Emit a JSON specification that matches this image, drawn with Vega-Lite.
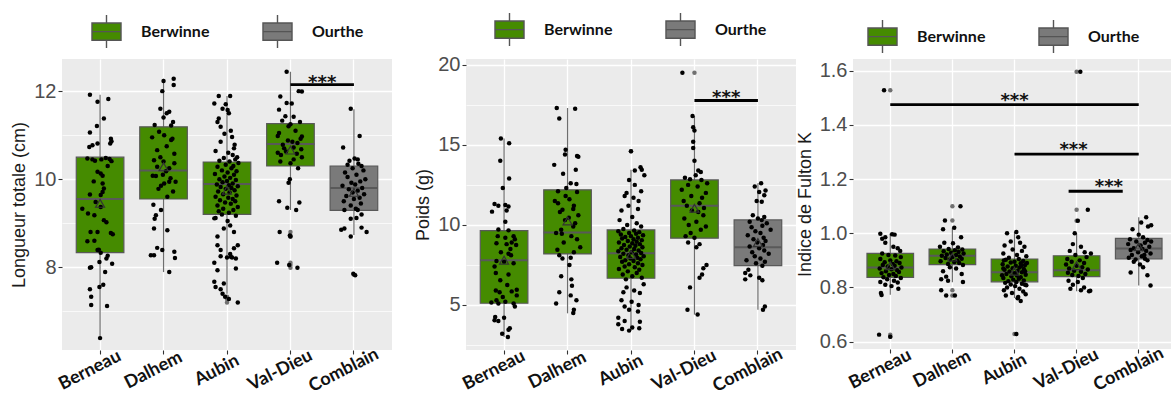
{
  "$schema": "https://vega.github.io/schema/vega-lite/v6.json",
  "background": "white",
  "padding": {"left": 10, "top": 12, "right": 0, "bottom": 0},
  "datasets": {
    "lenBox": [
      {"site": "Berneau", "river": "Berwinne", "lo": 6.39, "q1": 8.33, "med": 9.55, "q3": 10.5, "hi": 11.92, "mean": 9.45},
      {"site": "Dalhem", "river": "Berwinne", "lo": 7.89, "q1": 9.55, "med": 10.2, "q3": 11.19, "hi": 12.28, "mean": 10.28},
      {"site": "Aubin", "river": "Berwinne", "lo": 7.4, "q1": 9.2, "med": 9.89, "q3": 10.39, "hi": 11.89, "mean": 9.75},
      {"site": "Val-Dieu", "river": "Berwinne", "lo": 9.3, "q1": 10.3, "med": 10.8, "q3": 11.26, "hi": 12.44, "mean": 10.66},
      {"site": "Comblain", "river": "Ourthe", "lo": 8.73, "q1": 9.29, "med": 9.8, "q3": 10.3, "hi": 11.59, "mean": 9.7}
    ],
    "lenOut": [
      {"site": "Aubin", "v": 7.33}, {"site": "Aubin", "v": 7.28}, {"site": "Aubin", "v": 7.2},
      {"site": "Val-Dieu", "v": 8.8}, {"site": "Val-Dieu", "v": 8.72}, {"site": "Val-Dieu", "v": 8.7},
      {"site": "Val-Dieu", "v": 8.1}, {"site": "Val-Dieu", "v": 8.05}, {"site": "Val-Dieu", "v": 7.99},
      {"site": "Comblain", "v": 7.83}
    ],
    "lenSig": [{"from": "Val-Dieu", "to": "Comblain", "y": 12.15}],
    "lenTxt": [{"site": "Comblain", "shift": -0.5, "y": 12.15, "label": "***"}],
    "lenPts": [
      {"site":"Berneau","v":11.92,"j":-0.16},{"site":"Berneau","v":11.82,"j":0.13},{"site":"Berneau","v":11.76,"j":-0.04},{"site":"Berneau","v":11.38,"j":0.06},{"site":"Berneau","v":11.21,"j":-0.05},{"site":"Berneau","v":11.06,"j":-0.16},{"site":"Berneau","v":10.92,"j":0.17},{"site":"Berneau","v":10.86,"j":0.18},{"site":"Berneau","v":10.81,"j":0.16},{"site":"Berneau","v":10.77,"j":-0.12},{"site":"Berneau","v":10.73,"j":-0.17},{"site":"Berneau","v":10.81,"j":-0.04},{"site":"Berneau","v":10.47,"j":-0.2},{"site":"Berneau","v":10.45,"j":-0.12},{"site":"Berneau","v":10.42,"j":-0.08},{"site":"Berneau","v":10.45,"j":0.02},{"site":"Berneau","v":10.48,"j":0.09},{"site":"Berneau","v":10.46,"j":0.15},{"site":"Berneau","v":10.41,"j":0.18},{"site":"Berneau","v":10.17,"j":-0.04},{"site":"Berneau","v":10.13,"j":0.01},{"site":"Berneau","v":10.08,"j":0.04},{"site":"Berneau","v":9.9,"j":0.04},{"site":"Berneau","v":9.79,"j":0.06},{"site":"Berneau","v":9.71,"j":0.04},{"site":"Berneau","v":9.65,"j":-0.16},{"site":"Berneau","v":9.64,"j":0.01},{"site":"Berneau","v":9.48,"j":-0.07},{"site":"Berneau","v":9.37,"j":0.01},{"site":"Berneau","v":9.33,"j":-0.28},{"site":"Berneau","v":9.22,"j":-0.19},{"site":"Berneau","v":9.18,"j":-0.09},{"site":"Berneau","v":9.07,"j":0.06},{"site":"Berneau","v":9.02,"j":0.1},{"site":"Berneau","v":8.8,"j":-0.04},{"site":"Berneau","v":8.8,"j":-0.15},{"site":"Berneau","v":8.78,"j":0.17},{"site":"Berneau","v":8.59,"j":-0.2},{"site":"Berneau","v":8.6,"j":-0.09},{"site":"Berneau","v":8.39,"j":-0.04},{"site":"Berneau","v":8.4,"j":-0.02},{"site":"Berneau","v":8.33,"j":0.01},{"site":"Berneau","v":8.26,"j":0.12},{"site":"Berneau","v":8.2,"j":0.1},{"site":"Berneau","v":8.12,"j":-0.01},{"site":"Berneau","v":8.08,"j":0.19},{"site":"Berneau","v":7.99,"j":-0.16},{"site":"Berneau","v":8.0,"j":-0.14},{"site":"Berneau","v":7.89,"j":0.08},{"site":"Berneau","v":7.6,"j":0.05},{"site":"Berneau","v":7.55,"j":-0.01},{"site":"Berneau","v":7.5,"j":-0.16},{"site":"Berneau","v":7.33,"j":-0.14},{"site":"Berneau","v":7.14,"j":-0.14},{"site":"Berneau","v":7.12,"j":0.11},{"site":"Berneau","v":6.39,"j":0.0},{"site":"Berneau","v":8.75,"j":0.2},{"site":"Berneau","v":9.95,"j":-0.1},{"site":"Berneau","v":10.3,"j":0.12},
      {"site":"Dalhem","v":12.28,"j":0.16},{"site":"Dalhem","v":12.23,"j":0.0},{"site":"Dalhem","v":12.14,"j":0.16},{"site":"Dalhem","v":12.0,"j":-0.02},{"site":"Dalhem","v":11.6,"j":-0.05},{"site":"Dalhem","v":11.53,"j":0.09},{"site":"Dalhem","v":11.5,"j":0.05},{"site":"Dalhem","v":11.4,"j":0.0},{"site":"Dalhem","v":11.23,"j":-0.14},{"site":"Dalhem","v":11.22,"j":0.12},{"site":"Dalhem","v":11.08,"j":-0.07},{"site":"Dalhem","v":11.0,"j":0.01},{"site":"Dalhem","v":10.92,"j":0.14},{"site":"Dalhem","v":10.89,"j":0.12},{"site":"Dalhem","v":10.66,"j":-0.1},{"site":"Dalhem","v":10.58,"j":0.17},{"site":"Dalhem","v":10.5,"j":-0.05},{"site":"Dalhem","v":10.43,"j":-0.15},{"site":"Dalhem","v":10.36,"j":0.17},{"site":"Dalhem","v":10.28,"j":-0.1},{"site":"Dalhem","v":10.25,"j":0.09},{"site":"Dalhem","v":10.18,"j":0.04},{"site":"Dalhem","v":10.1,"j":-0.01},{"site":"Dalhem","v":10.08,"j":-0.17},{"site":"Dalhem","v":10.07,"j":-0.12},{"site":"Dalhem","v":9.94,"j":0.09},{"site":"Dalhem","v":9.9,"j":0.01},{"site":"Dalhem","v":9.94,"j":0.19},{"site":"Dalhem","v":9.85,"j":-0.04},{"site":"Dalhem","v":9.72,"j":0.15},{"site":"Dalhem","v":9.6,"j":0.06},{"site":"Dalhem","v":9.42,"j":-0.16},{"site":"Dalhem","v":9.3,"j":-0.04},{"site":"Dalhem","v":9.18,"j":-0.12},{"site":"Dalhem","v":9.1,"j":-0.14},{"site":"Dalhem","v":8.88,"j":-0.15},{"site":"Dalhem","v":8.84,"j":0.06},{"site":"Dalhem","v":8.44,"j":-0.1},{"site":"Dalhem","v":8.39,"j":-0.02},{"site":"Dalhem","v":8.27,"j":-0.15},{"site":"Dalhem","v":8.27,"j":-0.2},{"site":"Dalhem","v":8.35,"j":0.17},{"site":"Dalhem","v":8.21,"j":0.18},{"site":"Dalhem","v":7.89,"j":0.09},{"site":"Dalhem","v":10.75,"j":0.05},{"site":"Dalhem","v":10.95,"j":-0.18},{"site":"Dalhem","v":11.3,"j":0.15},{"site":"Dalhem","v":10.4,"j":0.0},{"site":"Dalhem","v":9.78,"j":-0.08},{"site":"Dalhem","v":10.02,"j":0.11},
      {"site":"Aubin","v":11.89,"j":-0.13},{"site":"Aubin","v":11.89,"j":0.05},{"site":"Aubin","v":11.72,"j":-0.2},{"site":"Aubin","v":11.7,"j":-0.02},{"site":"Aubin","v":11.6,"j":-0.07},{"site":"Aubin","v":11.57,"j":0.01},{"site":"Aubin","v":11.5,"j":0.03},{"site":"Aubin","v":11.38,"j":-0.13},{"site":"Aubin","v":11.3,"j":-0.15},{"site":"Aubin","v":11.19,"j":-0.1},{"site":"Aubin","v":11.1,"j":0.06},{"site":"Aubin","v":11.03,"j":-0.04},{"site":"Aubin","v":10.96,"j":0.08},{"site":"Aubin","v":10.85,"j":-0.1},{"site":"Aubin","v":10.78,"j":0.12},{"site":"Aubin","v":10.7,"j":0.11},{"site":"Aubin","v":10.64,"j":-0.18},{"site":"Aubin","v":10.6,"j":0.02},{"site":"Aubin","v":10.55,"j":0.09},{"site":"Aubin","v":10.5,"j":0.16},{"site":"Aubin","v":10.48,"j":-0.05},{"site":"Aubin","v":10.45,"j":0.13},{"site":"Aubin","v":10.42,"j":-0.12},{"site":"Aubin","v":10.4,"j":0.04},{"site":"Aubin","v":10.37,"j":0.18},{"site":"Aubin","v":10.33,"j":-0.02},{"site":"Aubin","v":10.3,"j":0.1},{"site":"Aubin","v":10.28,"j":-0.15},{"site":"Aubin","v":10.25,"j":0.07},{"site":"Aubin","v":10.2,"j":-0.08},{"site":"Aubin","v":10.18,"j":0.15},{"site":"Aubin","v":10.15,"j":0.01},{"site":"Aubin","v":10.12,"j":-0.19},{"site":"Aubin","v":10.1,"j":0.11},{"site":"Aubin","v":10.06,"j":-0.04},{"site":"Aubin","v":10.03,"j":0.05},{"site":"Aubin","v":10.0,"j":-0.12},{"site":"Aubin","v":9.98,"j":0.14},{"site":"Aubin","v":9.96,"j":0.0},{"site":"Aubin","v":9.93,"j":-0.07},{"site":"Aubin","v":9.9,"j":0.09},{"site":"Aubin","v":9.88,"j":-0.16},{"site":"Aubin","v":9.86,"j":0.03},{"site":"Aubin","v":9.84,"j":0.17},{"site":"Aubin","v":9.82,"j":-0.1},{"site":"Aubin","v":9.8,"j":0.07},{"site":"Aubin","v":9.78,"j":-0.02},{"site":"Aubin","v":9.75,"j":0.12},{"site":"Aubin","v":9.72,"j":-0.14},{"site":"Aubin","v":9.7,"j":0.04},{"site":"Aubin","v":9.66,"j":-0.06},{"site":"Aubin","v":9.63,"j":0.15},{"site":"Aubin","v":9.6,"j":-0.18},{"site":"Aubin","v":9.58,"j":0.02},{"site":"Aubin","v":9.55,"j":0.09},{"site":"Aubin","v":9.52,"j":-0.11},{"site":"Aubin","v":9.5,"j":0.13},{"site":"Aubin","v":9.47,"j":-0.03},{"site":"Aubin","v":9.44,"j":0.06},{"site":"Aubin","v":9.4,"j":-0.15},{"site":"Aubin","v":9.37,"j":0.17},{"site":"Aubin","v":9.33,"j":-0.06},{"site":"Aubin","v":9.3,"j":0.1},{"site":"Aubin","v":9.27,"j":-0.13},{"site":"Aubin","v":9.24,"j":0.03},{"site":"Aubin","v":9.2,"j":-0.08},{"site":"Aubin","v":9.17,"j":0.14},{"site":"Aubin","v":9.12,"j":-0.18},{"site":"Aubin","v":9.11,"j":-0.2},{"site":"Aubin","v":9.05,"j":0.01},{"site":"Aubin","v":8.95,"j":0.05},{"site":"Aubin","v":8.88,"j":-0.05},{"site":"Aubin","v":8.8,"j":0.11},{"site":"Aubin","v":8.7,"j":-0.15},{"site":"Aubin","v":8.5,"j":-0.15},{"site":"Aubin","v":8.5,"j":0.17},{"site":"Aubin","v":8.43,"j":0.11},{"site":"Aubin","v":8.39,"j":-0.1},{"site":"Aubin","v":8.3,"j":0.05},{"site":"Aubin","v":8.25,"j":-0.1},{"site":"Aubin","v":8.22,"j":0.0},{"site":"Aubin","v":8.22,"j":0.08},{"site":"Aubin","v":8.2,"j":0.14},{"site":"Aubin","v":8.24,"j":0.06},{"site":"Aubin","v":8.1,"j":-0.2},{"site":"Aubin","v":7.97,"j":0.14},{"site":"Aubin","v":7.93,"j":-0.15},{"site":"Aubin","v":7.67,"j":-0.2},{"site":"Aubin","v":7.63,"j":-0.05},{"site":"Aubin","v":7.55,"j":-0.18},{"site":"Aubin","v":7.5,"j":-0.1},{"site":"Aubin","v":7.4,"j":-0.07},{"site":"Aubin","v":7.33,"j":-0.03},{"site":"Aubin","v":7.28,"j":0.03},{"site":"Aubin","v":7.2,"j":0.17},
      {"site":"Val-Dieu","v":12.44,"j":-0.06},{"site":"Val-Dieu","v":12.0,"j":0.13},{"site":"Val-Dieu","v":11.99,"j":0.18},{"site":"Val-Dieu","v":11.88,"j":-0.16},{"site":"Val-Dieu","v":11.73,"j":-0.06},{"site":"Val-Dieu","v":11.72,"j":0.02},{"site":"Val-Dieu","v":11.58,"j":-0.18},{"site":"Val-Dieu","v":11.43,"j":-0.08},{"site":"Val-Dieu","v":11.42,"j":0.05},{"site":"Val-Dieu","v":11.33,"j":-0.13},{"site":"Val-Dieu","v":11.25,"j":0.0},{"site":"Val-Dieu","v":11.2,"j":-0.03},{"site":"Val-Dieu","v":11.3,"j":0.15},{"site":"Val-Dieu","v":11.05,"j":-0.18},{"site":"Val-Dieu","v":10.98,"j":-0.2},{"site":"Val-Dieu","v":10.97,"j":0.18},{"site":"Val-Dieu","v":10.92,"j":0.16},{"site":"Val-Dieu","v":10.88,"j":-0.04},{"site":"Val-Dieu","v":10.82,"j":0.11},{"site":"Val-Dieu","v":10.78,"j":-0.12},{"site":"Val-Dieu","v":10.72,"j":0.05},{"site":"Val-Dieu","v":10.68,"j":0.17},{"site":"Val-Dieu","v":10.63,"j":-0.07},{"site":"Val-Dieu","v":10.58,"j":0.1},{"site":"Val-Dieu","v":10.55,"j":-0.15},{"site":"Val-Dieu","v":10.5,"j":0.18},{"site":"Val-Dieu","v":10.45,"j":0.05},{"site":"Val-Dieu","v":10.4,"j":-0.16},{"site":"Val-Dieu","v":10.36,"j":0.0},{"site":"Val-Dieu","v":10.7,"j":-0.1},{"site":"Val-Dieu","v":10.85,"j":0.03},{"site":"Val-Dieu","v":11.1,"j":0.08},{"site":"Val-Dieu","v":10.0,"j":-0.01},{"site":"Val-Dieu","v":9.92,"j":-0.03},{"site":"Val-Dieu","v":9.5,"j":-0.18},{"site":"Val-Dieu","v":9.47,"j":0.14},{"site":"Val-Dieu","v":9.35,"j":-0.05},{"site":"Val-Dieu","v":9.3,"j":0.09},{"site":"Val-Dieu","v":8.8,"j":-0.17},{"site":"Val-Dieu","v":8.72,"j":-0.01},{"site":"Val-Dieu","v":8.7,"j":0.0},{"site":"Val-Dieu","v":8.1,"j":-0.21},{"site":"Val-Dieu","v":8.05,"j":-0.02},{"site":"Val-Dieu","v":7.99,"j":0.11},{"site":"Val-Dieu","v":10.25,"j":0.12},{"site":"Val-Dieu","v":10.6,"j":-0.2},
      {"site":"Comblain","v":11.6,"j":-0.05},{"site":"Comblain","v":10.98,"j":0.09},{"site":"Comblain","v":10.72,"j":-0.17},{"site":"Comblain","v":10.47,"j":0.01},{"site":"Comblain","v":10.45,"j":0.06},{"site":"Comblain","v":10.42,"j":-0.07},{"site":"Comblain","v":10.35,"j":0.07},{"site":"Comblain","v":10.33,"j":-0.1},{"site":"Comblain","v":10.3,"j":0.12},{"site":"Comblain","v":10.25,"j":-0.02},{"site":"Comblain","v":10.2,"j":0.15},{"site":"Comblain","v":10.15,"j":-0.14},{"site":"Comblain","v":10.1,"j":0.04},{"site":"Comblain","v":10.05,"j":-0.1},{"site":"Comblain","v":10.0,"j":0.18},{"site":"Comblain","v":9.95,"j":0.1},{"site":"Comblain","v":9.92,"j":-0.04},{"site":"Comblain","v":9.88,"j":0.02},{"site":"Comblain","v":9.85,"j":-0.18},{"site":"Comblain","v":9.8,"j":0.13},{"site":"Comblain","v":9.77,"j":-0.08},{"site":"Comblain","v":9.74,"j":0.06},{"site":"Comblain","v":9.7,"j":-0.02},{"site":"Comblain","v":9.66,"j":0.16},{"site":"Comblain","v":9.62,"j":-0.12},{"site":"Comblain","v":9.58,"j":0.09},{"site":"Comblain","v":9.55,"j":0.0},{"site":"Comblain","v":9.5,"j":-0.16},{"site":"Comblain","v":9.45,"j":0.11},{"site":"Comblain","v":9.4,"j":-0.05},{"site":"Comblain","v":9.33,"j":0.03},{"site":"Comblain","v":9.3,"j":-0.15},{"site":"Comblain","v":9.3,"j":0.06},{"site":"Comblain","v":9.2,"j":0.12},{"site":"Comblain","v":9.12,"j":0.04},{"site":"Comblain","v":9.1,"j":-0.05},{"site":"Comblain","v":8.9,"j":0.12},{"site":"Comblain","v":8.85,"j":-0.2},{"site":"Comblain","v":8.88,"j":-0.15},{"site":"Comblain","v":8.8,"j":0.2},{"site":"Comblain","v":8.7,"j":-0.05},{"site":"Comblain","v":7.85,"j":-0.01},{"site":"Comblain","v":7.82,"j":0.02}
    ],
    "wtBox": [
      {"site": "Berneau", "river": "Berwinne", "lo": 3.0, "q1": 5.11, "med": 7.79, "q3": 9.64, "hi": 15.4, "mean": 7.8},
      {"site": "Dalhem", "river": "Berwinne", "lo": 4.48, "q1": 8.19, "med": 9.52, "q3": 12.19, "hi": 17.3, "mean": 10.25},
      {"site": "Aubin", "river": "Berwinne", "lo": 3.4, "q1": 6.67, "med": 8.23, "q3": 9.69, "hi": 13.45, "mean": 8.15},
      {"site": "Val-Dieu", "river": "Berwinne", "lo": 4.4, "q1": 9.17, "med": 11.19, "q3": 12.81, "hi": 16.8, "mean": 11.04},
      {"site": "Comblain", "river": "Ourthe", "lo": 4.7, "q1": 7.46, "med": 8.6, "q3": 10.31, "hi": 12.6, "mean": 8.9}
    ],
    "wtOut": [{"site": "Aubin", "v": 14.6}, {"site": "Val-Dieu", "v": 19.5}],
    "wtSig": [{"from": "Val-Dieu", "to": "Comblain", "y": 17.77}],
    "wtTxt": [{"site": "Comblain", "shift": -0.5, "y": 17.77, "label": "***"}],
    "wtPts": [
      {"site":"Berneau","v":15.4,"j":-0.05},{"site":"Berneau","v":15.1,"j":0.08},{"site":"Berneau","v":14.0,"j":-0.06},{"site":"Berneau","v":12.9,"j":0.08},{"site":"Berneau","v":12.3,"j":-0.02},{"site":"Berneau","v":11.3,"j":-0.15},{"site":"Berneau","v":11.2,"j":-0.09},{"site":"Berneau","v":11.25,"j":0.02},{"site":"Berneau","v":11.15,"j":0.07},{"site":"Berneau","v":10.9,"j":0.04},{"site":"Berneau","v":10.83,"j":-0.19},{"site":"Berneau","v":10.2,"j":0.02},{"site":"Berneau","v":9.72,"j":-0.09},{"site":"Berneau","v":9.66,"j":0.07},{"site":"Berneau","v":9.3,"j":-0.1},{"site":"Berneau","v":9.2,"j":0.02},{"site":"Berneau","v":9.3,"j":0.15},{"site":"Berneau","v":9.1,"j":0.17},{"site":"Berneau","v":8.85,"j":-0.12},{"site":"Berneau","v":8.8,"j":0.04},{"site":"Berneau","v":8.9,"j":0.12},{"site":"Berneau","v":8.75,"j":0.19},{"site":"Berneau","v":8.3,"j":-0.05},{"site":"Berneau","v":8.2,"j":0.07},{"site":"Berneau","v":8.1,"j":0.11},{"site":"Berneau","v":7.75,"j":-0.12},{"site":"Berneau","v":7.7,"j":0.0},{"site":"Berneau","v":7.6,"j":0.15},{"site":"Berneau","v":7.0,"j":-0.13},{"site":"Berneau","v":6.9,"j":0.07},{"site":"Berneau","v":6.55,"j":-0.06},{"site":"Berneau","v":6.25,"j":0.05},{"site":"Berneau","v":5.9,"j":-0.13},{"site":"Berneau","v":5.8,"j":-0.07},{"site":"Berneau","v":5.85,"j":0.12},{"site":"Berneau","v":5.95,"j":0.2},{"site":"Berneau","v":5.5,"j":-0.02},{"site":"Berneau","v":5.6,"j":0.2},{"site":"Berneau","v":5.2,"j":0.02},{"site":"Berneau","v":5.1,"j":0.15},{"site":"Berneau","v":5.1,"j":-0.09},{"site":"Berneau","v":5.15,"j":-0.2},{"site":"Berneau","v":5.3,"j":-0.12},{"site":"Berneau","v":4.9,"j":0.17},{"site":"Berneau","v":4.25,"j":-0.14},{"site":"Berneau","v":4.2,"j":0.0},{"site":"Berneau","v":4.0,"j":-0.09},{"site":"Berneau","v":4.05,"j":-0.15},{"site":"Berneau","v":3.55,"j":0.09},{"site":"Berneau","v":3.45,"j":0.07},{"site":"Berneau","v":3.2,"j":-0.03},{"site":"Berneau","v":3.0,"j":0.06},{"site":"Berneau","v":7.4,"j":-0.15},{"site":"Berneau","v":8.5,"j":0.1},
      {"site":"Dalhem","v":17.3,"j":-0.17},{"site":"Dalhem","v":17.25,"j":0.12},{"site":"Dalhem","v":16.65,"j":-0.13},{"site":"Dalhem","v":14.7,"j":-0.03},{"site":"Dalhem","v":14.4,"j":-0.04},{"site":"Dalhem","v":14.3,"j":0.15},{"site":"Dalhem","v":14.25,"j":0.17},{"site":"Dalhem","v":13.75,"j":-0.21},{"site":"Dalhem","v":13.45,"j":0.13},{"site":"Dalhem","v":13.2,"j":-0.07},{"site":"Dalhem","v":12.6,"j":0.05},{"site":"Dalhem","v":12.55,"j":0.14},{"site":"Dalhem","v":12.3,"j":-0.02},{"site":"Dalhem","v":12.1,"j":-0.15},{"site":"Dalhem","v":12.05,"j":0.15},{"site":"Dalhem","v":11.8,"j":-0.03},{"site":"Dalhem","v":11.5,"j":-0.2},{"site":"Dalhem","v":11.35,"j":-0.15},{"site":"Dalhem","v":11.2,"j":0.1},{"site":"Dalhem","v":11.0,"j":0.09},{"site":"Dalhem","v":10.8,"j":-0.12},{"site":"Dalhem","v":10.6,"j":0.17},{"site":"Dalhem","v":10.45,"j":0.02},{"site":"Dalhem","v":10.3,"j":-0.04},{"site":"Dalhem","v":10.1,"j":0.12},{"site":"Dalhem","v":9.9,"j":0.09},{"site":"Dalhem","v":9.7,"j":-0.1},{"site":"Dalhem","v":9.5,"j":-0.18},{"site":"Dalhem","v":9.45,"j":-0.09},{"site":"Dalhem","v":9.3,"j":0.06},{"site":"Dalhem","v":9.1,"j":0.15},{"site":"Dalhem","v":8.9,"j":-0.06},{"site":"Dalhem","v":8.6,"j":0.2},{"site":"Dalhem","v":8.45,"j":-0.16},{"site":"Dalhem","v":8.3,"j":0.1},{"site":"Dalhem","v":8.1,"j":-0.13},{"site":"Dalhem","v":7.9,"j":-0.08},{"site":"Dalhem","v":7.95,"j":0.05},{"site":"Dalhem","v":7.5,"j":0.03},{"site":"Dalhem","v":6.8,"j":-0.1},{"site":"Dalhem","v":6.6,"j":0.06},{"site":"Dalhem","v":6.2,"j":0.07},{"site":"Dalhem","v":5.8,"j":-0.13},{"site":"Dalhem","v":5.6,"j":0.05},{"site":"Dalhem","v":5.3,"j":0.14},{"site":"Dalhem","v":5.1,"j":-0.18},{"site":"Dalhem","v":4.7,"j":0.1},{"site":"Dalhem","v":4.5,"j":0.09},{"site":"Dalhem","v":10.95,"j":-0.08},{"site":"Dalhem","v":11.6,"j":0.03},
      {"site":"Aubin","v":14.6,"j":0.0},{"site":"Aubin","v":13.6,"j":0.15},{"site":"Aubin","v":13.45,"j":0.17},{"site":"Aubin","v":13.4,"j":0.06},{"site":"Aubin","v":13.1,"j":0.21},{"site":"Aubin","v":12.8,"j":-0.03},{"site":"Aubin","v":12.5,"j":0.06},{"site":"Aubin","v":12.1,"j":0.16},{"site":"Aubin","v":12.0,"j":-0.07},{"site":"Aubin","v":11.8,"j":-0.1},{"site":"Aubin","v":11.7,"j":0.04},{"site":"Aubin","v":11.5,"j":0.12},{"site":"Aubin","v":11.2,"j":-0.04},{"site":"Aubin","v":11.0,"j":0.11},{"site":"Aubin","v":10.9,"j":-0.15},{"site":"Aubin","v":10.5,"j":0.02},{"site":"Aubin","v":10.3,"j":-0.18},{"site":"Aubin","v":10.1,"j":0.09},{"site":"Aubin","v":10.0,"j":-0.06},{"site":"Aubin","v":9.9,"j":0.16},{"site":"Aubin","v":9.75,"j":-0.12},{"site":"Aubin","v":9.65,"j":0.05},{"site":"Aubin","v":9.6,"j":-0.2},{"site":"Aubin","v":9.55,"j":0.13},{"site":"Aubin","v":9.5,"j":-0.03},{"site":"Aubin","v":9.45,"j":0.08},{"site":"Aubin","v":9.4,"j":-0.16},{"site":"Aubin","v":9.35,"j":0.19},{"site":"Aubin","v":9.3,"j":0.0},{"site":"Aubin","v":9.25,"j":-0.09},{"site":"Aubin","v":9.2,"j":0.11},{"site":"Aubin","v":9.15,"j":-0.14},{"site":"Aubin","v":9.1,"j":0.04},{"site":"Aubin","v":9.05,"j":0.17},{"site":"Aubin","v":9.0,"j":-0.05},{"site":"Aubin","v":8.95,"j":0.09},{"site":"Aubin","v":8.9,"j":-0.19},{"site":"Aubin","v":8.85,"j":0.02},{"site":"Aubin","v":8.8,"j":0.14},{"site":"Aubin","v":8.75,"j":-0.11},{"site":"Aubin","v":8.7,"j":0.07},{"site":"Aubin","v":8.65,"j":-0.02},{"site":"Aubin","v":8.6,"j":0.18},{"site":"Aubin","v":8.55,"j":-0.15},{"site":"Aubin","v":8.5,"j":0.05},{"site":"Aubin","v":8.45,"j":-0.07},{"site":"Aubin","v":8.4,"j":0.12},{"site":"Aubin","v":8.35,"j":-0.2},{"site":"Aubin","v":8.3,"j":0.01},{"site":"Aubin","v":8.25,"j":0.16},{"site":"Aubin","v":8.2,"j":-0.12},{"site":"Aubin","v":8.15,"j":0.08},{"site":"Aubin","v":8.1,"j":-0.04},{"site":"Aubin","v":8.05,"j":0.2},{"site":"Aubin","v":8.0,"j":-0.17},{"site":"Aubin","v":7.95,"j":0.1},{"site":"Aubin","v":7.9,"j":-0.01},{"site":"Aubin","v":7.85,"j":0.15},{"site":"Aubin","v":7.8,"j":-0.09},{"site":"Aubin","v":7.75,"j":0.04},{"site":"Aubin","v":7.7,"j":-0.14},{"site":"Aubin","v":7.6,"j":0.11},{"site":"Aubin","v":7.55,"j":-0.03},{"site":"Aubin","v":7.5,"j":0.18},{"site":"Aubin","v":7.4,"j":-0.1},{"site":"Aubin","v":7.35,"j":0.06},{"site":"Aubin","v":7.25,"j":-0.19},{"site":"Aubin","v":7.2,"j":0.13},{"site":"Aubin","v":7.1,"j":-0.05},{"site":"Aubin","v":7.0,"j":0.09},{"site":"Aubin","v":6.9,"j":-0.13},{"site":"Aubin","v":6.8,"j":0.02},{"site":"Aubin","v":6.7,"j":0.17},{"site":"Aubin","v":6.6,"j":-0.08},{"site":"Aubin","v":6.3,"j":0.2},{"site":"Aubin","v":6.1,"j":-0.07},{"site":"Aubin","v":5.9,"j":0.05},{"site":"Aubin","v":5.8,"j":-0.12},{"site":"Aubin","v":5.75,"j":0.14},{"site":"Aubin","v":5.3,"j":-0.15},{"site":"Aubin","v":5.2,"j":0.01},{"site":"Aubin","v":5.0,"j":0.12},{"site":"Aubin","v":4.9,"j":-0.1},{"site":"Aubin","v":4.7,"j":-0.03},{"site":"Aubin","v":4.6,"j":0.11},{"site":"Aubin","v":4.2,"j":-0.2},{"site":"Aubin","v":4.0,"j":-0.1},{"site":"Aubin","v":3.8,"j":-0.2},{"site":"Aubin","v":3.6,"j":0.02},{"site":"Aubin","v":3.5,"j":-0.14},{"site":"Aubin","v":3.4,"j":-0.03},{"site":"Aubin","v":3.55,"j":0.13},{"site":"Aubin","v":3.95,"j":0.14},
      {"site":"Val-Dieu","v":19.5,"j":-0.19},{"site":"Val-Dieu","v":16.8,"j":-0.03},{"site":"Val-Dieu","v":16.1,"j":-0.02},{"site":"Val-Dieu","v":15.9,"j":0.0},{"site":"Val-Dieu","v":15.2,"j":-0.02},{"site":"Val-Dieu","v":14.8,"j":-0.02},{"site":"Val-Dieu","v":14.0,"j":0.0},{"site":"Val-Dieu","v":13.4,"j":0.06},{"site":"Val-Dieu","v":13.3,"j":0.1},{"site":"Val-Dieu","v":13.1,"j":0.02},{"site":"Val-Dieu","v":12.95,"j":-0.15},{"site":"Val-Dieu","v":12.85,"j":-0.07},{"site":"Val-Dieu","v":12.8,"j":0.11},{"site":"Val-Dieu","v":12.6,"j":0.2},{"site":"Val-Dieu","v":12.5,"j":-0.1},{"site":"Val-Dieu","v":12.4,"j":0.05},{"site":"Val-Dieu","v":12.2,"j":-0.2},{"site":"Val-Dieu","v":12.0,"j":0.18},{"site":"Val-Dieu","v":11.8,"j":-0.05},{"site":"Val-Dieu","v":11.7,"j":0.12},{"site":"Val-Dieu","v":11.5,"j":-0.17},{"site":"Val-Dieu","v":11.35,"j":0.08},{"site":"Val-Dieu","v":11.2,"j":-0.12},{"site":"Val-Dieu","v":11.05,"j":0.15},{"site":"Val-Dieu","v":10.9,"j":-0.04},{"site":"Val-Dieu","v":10.8,"j":0.06},{"site":"Val-Dieu","v":10.6,"j":0.14},{"site":"Val-Dieu","v":10.4,"j":-0.16},{"site":"Val-Dieu","v":10.2,"j":0.03},{"site":"Val-Dieu","v":10.0,"j":-0.09},{"site":"Val-Dieu","v":9.9,"j":0.18},{"site":"Val-Dieu","v":9.7,"j":0.1},{"site":"Val-Dieu","v":9.5,"j":-0.06},{"site":"Val-Dieu","v":9.3,"j":-0.14},{"site":"Val-Dieu","v":9.2,"j":0.0},{"site":"Val-Dieu","v":8.9,"j":-0.1},{"site":"Val-Dieu","v":8.8,"j":0.08},{"site":"Val-Dieu","v":8.6,"j":0.03},{"site":"Val-Dieu","v":7.5,"j":0.19},{"site":"Val-Dieu","v":7.3,"j":0.14},{"site":"Val-Dieu","v":6.9,"j":0.12},{"site":"Val-Dieu","v":6.7,"j":0.08},{"site":"Val-Dieu","v":6.1,"j":-0.07},{"site":"Val-Dieu","v":4.7,"j":-0.11},{"site":"Val-Dieu","v":4.4,"j":0.05},
      {"site":"Comblain","v":12.6,"j":0.05},{"site":"Comblain","v":12.4,"j":-0.05},{"site":"Comblain","v":12.15,"j":0.12},{"site":"Comblain","v":12.05,"j":0.02},{"site":"Comblain","v":11.85,"j":0.1},{"site":"Comblain","v":11.5,"j":-0.02},{"site":"Comblain","v":11.45,"j":0.06},{"site":"Comblain","v":10.6,"j":-0.08},{"site":"Comblain","v":10.5,"j":0.1},{"site":"Comblain","v":10.4,"j":0.0},{"site":"Comblain","v":10.3,"j":0.06},{"site":"Comblain","v":10.2,"j":-0.13},{"site":"Comblain","v":10.1,"j":0.14},{"site":"Comblain","v":9.95,"j":0.07},{"site":"Comblain","v":9.85,"j":-0.1},{"site":"Comblain","v":9.7,"j":0.2},{"site":"Comblain","v":9.6,"j":-0.04},{"site":"Comblain","v":9.5,"j":0.04},{"site":"Comblain","v":9.35,"j":-0.16},{"site":"Comblain","v":9.2,"j":0.09},{"site":"Comblain","v":9.1,"j":-0.07},{"site":"Comblain","v":9.0,"j":0.12},{"site":"Comblain","v":8.9,"j":-0.01},{"site":"Comblain","v":8.75,"j":0.08},{"site":"Comblain","v":8.65,"j":-0.13},{"site":"Comblain","v":8.55,"j":0.02},{"site":"Comblain","v":8.4,"j":0.1},{"site":"Comblain","v":8.3,"j":-0.09},{"site":"Comblain","v":8.2,"j":0.17},{"site":"Comblain","v":8.05,"j":-0.05},{"site":"Comblain","v":7.9,"j":0.04},{"site":"Comblain","v":7.8,"j":-0.18},{"site":"Comblain","v":7.7,"j":0.11},{"site":"Comblain","v":7.6,"j":-0.03},{"site":"Comblain","v":7.45,"j":0.07},{"site":"Comblain","v":7.2,"j":-0.15},{"site":"Comblain","v":7.0,"j":-0.2},{"site":"Comblain","v":6.85,"j":-0.12},{"site":"Comblain","v":6.7,"j":0.02},{"site":"Comblain","v":6.6,"j":-0.2},{"site":"Comblain","v":6.55,"j":0.07},{"site":"Comblain","v":4.9,"j":0.11},{"site":"Comblain","v":4.7,"j":0.08}
    ],
    "kBox": [
      {"site": "Berneau", "river": "Berwinne", "lo": 0.773, "q1": 0.837, "med": 0.874, "q3": 0.926, "hi": 1.0, "mean": 0.88},
      {"site": "Dalhem", "river": "Berwinne", "lo": 0.819, "q1": 0.884, "med": 0.917, "q3": 0.942, "hi": 1.02, "mean": 0.912},
      {"site": "Aubin", "river": "Berwinne", "lo": 0.761, "q1": 0.821, "med": 0.856, "q3": 0.905, "hi": 1.005, "mean": 0.86},
      {"site": "Val-Dieu", "river": "Berwinne", "lo": 0.786, "q1": 0.84, "med": 0.864, "q3": 0.917, "hi": 1.0, "mean": 0.88},
      {"site": "Comblain", "river": "Ourthe", "lo": 0.807, "q1": 0.905, "med": 0.944, "q3": 0.981, "hi": 1.059, "mean": 0.95}
    ],
    "kOut": [
      {"site": "Berneau", "v": 1.528}, {"site": "Berneau", "v": 0.626}, {"site": "Berneau", "v": 0.618},
      {"site": "Dalhem", "v": 1.1}, {"site": "Dalhem", "v": 1.047}, {"site": "Dalhem", "v": 0.79}, {"site": "Dalhem", "v": 0.77},
      {"site": "Aubin", "v": 0.628},
      {"site": "Val-Dieu", "v": 1.596}, {"site": "Val-Dieu", "v": 1.087}, {"site": "Val-Dieu", "v": 1.046}
    ],
    "kSig": [
      {"from": "Berneau", "to": "Comblain", "y": 1.475},
      {"from": "Aubin", "to": "Comblain", "y": 1.292}
    ],
    "kSigShort": [{"from": "Val-Dieu", "to": "Comblain", "y": 1.155}],
    "kTxt": [
      {"site": "Comblain", "shift": -2.0, "y": 1.475, "label": "***"},
      {"site": "Comblain", "shift": -1.05, "y": 1.292, "label": "***"},
      {"site": "Comblain", "shift": -0.48, "y": 1.155, "label": "***"}
    ],
    "kPts": [
      {"site":"Berneau","v":1.528,"j":-0.1},{"site":"Berneau","v":0.998,"j":-0.16},{"site":"Berneau","v":0.996,"j":0.03},{"site":"Berneau","v":0.995,"j":0.07},{"site":"Berneau","v":0.985,"j":-0.08},{"site":"Berneau","v":0.98,"j":-0.13},{"site":"Berneau","v":0.965,"j":-0.08},{"site":"Berneau","v":0.95,"j":0.05},{"site":"Berneau","v":0.945,"j":0.12},{"site":"Berneau","v":0.935,"j":0.16},{"site":"Berneau","v":0.925,"j":-0.13},{"site":"Berneau","v":0.92,"j":-0.03},{"site":"Berneau","v":0.918,"j":0.08},{"site":"Berneau","v":0.912,"j":0.17},{"site":"Berneau","v":0.905,"j":-0.16},{"site":"Berneau","v":0.9,"j":0.0},{"site":"Berneau","v":0.897,"j":0.1},{"site":"Berneau","v":0.893,"j":-0.09},{"site":"Berneau","v":0.89,"j":0.15},{"site":"Berneau","v":0.887,"j":0.04},{"site":"Berneau","v":0.883,"j":-0.12},{"site":"Berneau","v":0.88,"j":0.07},{"site":"Berneau","v":0.877,"j":-0.04},{"site":"Berneau","v":0.874,"j":0.18},{"site":"Berneau","v":0.87,"j":-0.17},{"site":"Berneau","v":0.867,"j":0.02},{"site":"Berneau","v":0.864,"j":0.11},{"site":"Berneau","v":0.86,"j":-0.07},{"site":"Berneau","v":0.857,"j":0.14},{"site":"Berneau","v":0.853,"j":-0.14},{"site":"Berneau","v":0.85,"j":0.05},{"site":"Berneau","v":0.846,"j":-0.02},{"site":"Berneau","v":0.842,"j":0.09},{"site":"Berneau","v":0.838,"j":-0.11},{"site":"Berneau","v":0.835,"j":0.17},{"site":"Berneau","v":0.83,"j":-0.05},{"site":"Berneau","v":0.825,"j":0.06},{"site":"Berneau","v":0.82,"j":-0.16},{"site":"Berneau","v":0.818,"j":0.12},{"site":"Berneau","v":0.81,"j":-0.08},{"site":"Berneau","v":0.805,"j":0.02},{"site":"Berneau","v":0.795,"j":0.13},{"site":"Berneau","v":0.78,"j":-0.15},{"site":"Berneau","v":0.772,"j":-0.14},{"site":"Berneau","v":0.626,"j":-0.18},{"site":"Berneau","v":0.618,"j":0.0},
      {"site":"Dalhem","v":1.1,"j":0.13},{"site":"Dalhem","v":1.047,"j":-0.12},{"site":"Dalhem","v":1.02,"j":0.03},{"site":"Dalhem","v":1.015,"j":-0.15},{"site":"Dalhem","v":0.985,"j":0.14},{"site":"Dalhem","v":0.965,"j":-0.13},{"site":"Dalhem","v":0.963,"j":0.01},{"site":"Dalhem","v":0.95,"j":-0.2},{"site":"Dalhem","v":0.948,"j":0.09},{"site":"Dalhem","v":0.942,"j":-0.06},{"site":"Dalhem","v":0.94,"j":0.16},{"site":"Dalhem","v":0.937,"j":0.04},{"site":"Dalhem","v":0.934,"j":-0.14},{"site":"Dalhem","v":0.931,"j":0.1},{"site":"Dalhem","v":0.928,"j":-0.02},{"site":"Dalhem","v":0.925,"j":0.18},{"site":"Dalhem","v":0.922,"j":-0.09},{"site":"Dalhem","v":0.92,"j":0.06},{"site":"Dalhem","v":0.917,"j":-0.17},{"site":"Dalhem","v":0.914,"j":0.12},{"site":"Dalhem","v":0.912,"j":0.0},{"site":"Dalhem","v":0.909,"j":-0.11},{"site":"Dalhem","v":0.906,"j":0.15},{"site":"Dalhem","v":0.903,"j":-0.04},{"site":"Dalhem","v":0.9,"j":0.08},{"site":"Dalhem","v":0.897,"j":-0.19},{"site":"Dalhem","v":0.894,"j":0.03},{"site":"Dalhem","v":0.89,"j":0.11},{"site":"Dalhem","v":0.887,"j":-0.07},{"site":"Dalhem","v":0.883,"j":0.17},{"site":"Dalhem","v":0.875,"j":-0.04},{"site":"Dalhem","v":0.87,"j":0.06},{"site":"Dalhem","v":0.86,"j":-0.15},{"site":"Dalhem","v":0.85,"j":0.15},{"site":"Dalhem","v":0.84,"j":-0.1},{"site":"Dalhem","v":0.83,"j":-0.18},{"site":"Dalhem","v":0.825,"j":-0.07},{"site":"Dalhem","v":0.82,"j":0.17},{"site":"Dalhem","v":0.79,"j":-0.18},{"site":"Dalhem","v":0.77,"j":0.04},{"site":"Dalhem","v":0.77,"j":-0.1},
      {"site":"Aubin","v":1.005,"j":0.03},{"site":"Aubin","v":1.0,"j":-0.12},{"site":"Aubin","v":0.985,"j":0.06},{"site":"Aubin","v":0.97,"j":-0.06},{"site":"Aubin","v":0.965,"j":0.09},{"site":"Aubin","v":0.955,"j":-0.16},{"site":"Aubin","v":0.95,"j":0.16},{"site":"Aubin","v":0.94,"j":-0.03},{"site":"Aubin","v":0.935,"j":0.12},{"site":"Aubin","v":0.925,"j":-0.18},{"site":"Aubin","v":0.92,"j":0.04},{"site":"Aubin","v":0.915,"j":0.19},{"site":"Aubin","v":0.91,"j":-0.09},{"site":"Aubin","v":0.905,"j":0.07},{"site":"Aubin","v":0.902,"j":-0.14},{"site":"Aubin","v":0.898,"j":0.14},{"site":"Aubin","v":0.895,"j":0.0},{"site":"Aubin","v":0.892,"j":-0.06},{"site":"Aubin","v":0.889,"j":0.1},{"site":"Aubin","v":0.886,"j":-0.19},{"site":"Aubin","v":0.883,"j":0.17},{"site":"Aubin","v":0.88,"j":0.02},{"site":"Aubin","v":0.877,"j":-0.11},{"site":"Aubin","v":0.874,"j":0.08},{"site":"Aubin","v":0.871,"j":-0.03},{"site":"Aubin","v":0.868,"j":0.15},{"site":"Aubin","v":0.865,"j":-0.16},{"site":"Aubin","v":0.862,"j":0.05},{"site":"Aubin","v":0.859,"j":-0.08},{"site":"Aubin","v":0.856,"j":0.12},{"site":"Aubin","v":0.853,"j":0.0},{"site":"Aubin","v":0.85,"j":-0.13},{"site":"Aubin","v":0.847,"j":0.18},{"site":"Aubin","v":0.844,"j":0.04},{"site":"Aubin","v":0.841,"j":-0.05},{"site":"Aubin","v":0.838,"j":0.1},{"site":"Aubin","v":0.835,"j":-0.18},{"site":"Aubin","v":0.832,"j":0.07},{"site":"Aubin","v":0.829,"j":-0.02},{"site":"Aubin","v":0.826,"j":0.15},{"site":"Aubin","v":0.823,"j":-0.1},{"site":"Aubin","v":0.82,"j":0.03},{"site":"Aubin","v":0.817,"j":-0.15},{"site":"Aubin","v":0.814,"j":0.12},{"site":"Aubin","v":0.811,"j":-0.06},{"site":"Aubin","v":0.808,"j":0.19},{"site":"Aubin","v":0.805,"j":0.01},{"site":"Aubin","v":0.8,"j":-0.12},{"site":"Aubin","v":0.795,"j":0.08},{"site":"Aubin","v":0.79,"j":-0.17},{"site":"Aubin","v":0.785,"j":0.14},{"site":"Aubin","v":0.78,"j":-0.04},{"site":"Aubin","v":0.775,"j":0.18},{"site":"Aubin","v":0.77,"j":-0.14},{"site":"Aubin","v":0.765,"j":0.06},{"site":"Aubin","v":0.76,"j":0.05},{"site":"Aubin","v":0.75,"j":0.1},{"site":"Aubin","v":0.628,"j":0.03},{"site":"Aubin","v":0.86,"j":0.17},{"site":"Aubin","v":0.87,"j":-0.18},{"site":"Aubin","v":0.89,"j":0.2},{"site":"Aubin","v":0.845,"j":-0.2},{"site":"Aubin","v":0.9,"j":-0.17},{"site":"Aubin","v":0.81,"j":0.17},{"site":"Aubin","v":0.88,"j":0.11},
      {"site":"Val-Dieu","v":1.596,"j":0.06},{"site":"Val-Dieu","v":1.087,"j":0.18},{"site":"Val-Dieu","v":1.046,"j":0.02},{"site":"Val-Dieu","v":1.0,"j":-0.03},{"site":"Val-Dieu","v":0.96,"j":-0.06},{"site":"Val-Dieu","v":0.95,"j":0.07},{"site":"Val-Dieu","v":0.935,"j":-0.11},{"site":"Val-Dieu","v":0.93,"j":0.13},{"site":"Val-Dieu","v":0.925,"j":0.23},{"site":"Val-Dieu","v":0.92,"j":-0.02},{"site":"Val-Dieu","v":0.912,"j":0.16},{"site":"Val-Dieu","v":0.905,"j":-0.15},{"site":"Val-Dieu","v":0.9,"j":0.05},{"site":"Val-Dieu","v":0.895,"j":-0.08},{"site":"Val-Dieu","v":0.89,"j":0.12},{"site":"Val-Dieu","v":0.885,"j":-0.17},{"site":"Val-Dieu","v":0.88,"j":0.0},{"site":"Val-Dieu","v":0.875,"j":0.09},{"site":"Val-Dieu","v":0.87,"j":-0.12},{"site":"Val-Dieu","v":0.866,"j":0.18},{"site":"Val-Dieu","v":0.862,"j":-0.04},{"site":"Val-Dieu","v":0.858,"j":0.07},{"site":"Val-Dieu","v":0.854,"j":-0.14},{"site":"Val-Dieu","v":0.85,"j":0.14},{"site":"Val-Dieu","v":0.846,"j":-0.07},{"site":"Val-Dieu","v":0.842,"j":0.03},{"site":"Val-Dieu","v":0.835,"j":0.1},{"site":"Val-Dieu","v":0.825,"j":-0.13},{"site":"Val-Dieu","v":0.82,"j":0.02},{"site":"Val-Dieu","v":0.81,"j":-0.06},{"site":"Val-Dieu","v":0.8,"j":0.12},{"site":"Val-Dieu","v":0.795,"j":-0.1},{"site":"Val-Dieu","v":0.79,"j":0.07},{"site":"Val-Dieu","v":0.788,"j":0.22},{"site":"Val-Dieu","v":0.786,"j":0.2},
      {"site":"Comblain","v":1.059,"j":0.12},{"site":"Comblain","v":1.04,"j":0.04},{"site":"Comblain","v":1.03,"j":0.2},{"site":"Comblain","v":1.025,"j":0.15},{"site":"Comblain","v":1.015,"j":-0.1},{"site":"Comblain","v":0.995,"j":0.0},{"site":"Comblain","v":0.985,"j":0.07},{"site":"Comblain","v":0.978,"j":-0.14},{"site":"Comblain","v":0.975,"j":0.14},{"site":"Comblain","v":0.97,"j":-0.04},{"site":"Comblain","v":0.965,"j":0.1},{"site":"Comblain","v":0.96,"j":-0.17},{"site":"Comblain","v":0.955,"j":0.03},{"site":"Comblain","v":0.95,"j":0.17},{"site":"Comblain","v":0.945,"j":-0.08},{"site":"Comblain","v":0.942,"j":0.06},{"site":"Comblain","v":0.938,"j":-0.13},{"site":"Comblain","v":0.935,"j":0.12},{"site":"Comblain","v":0.93,"j":-0.01},{"site":"Comblain","v":0.925,"j":0.19},{"site":"Comblain","v":0.92,"j":-0.11},{"site":"Comblain","v":0.915,"j":0.05},{"site":"Comblain","v":0.91,"j":-0.16},{"site":"Comblain","v":0.906,"j":0.1},{"site":"Comblain","v":0.903,"j":-0.05},{"site":"Comblain","v":0.9,"j":0.14},{"site":"Comblain","v":0.895,"j":-0.08},{"site":"Comblain","v":0.885,"j":0.02},{"site":"Comblain","v":0.875,"j":0.07},{"site":"Comblain","v":0.855,"j":-0.13},{"site":"Comblain","v":0.845,"j":0.14},{"site":"Comblain","v":0.807,"j":0.19},{"site":"Comblain","v":0.97,"j":0.2},{"site":"Comblain","v":0.92,"j":0.09}
    ]
  },
  "hconcat": [
    {
      "hconcat": [
        {
          "width": 330,
          "height": 291,
          "layer": [
            {
              "layer": [
                {"data": {"name": "lenBox"}, "mark": {"type": "rule", "color": "#6e6e6e", "strokeWidth": 1.2},
                 "encoding": {
                   "x": {"field": "site", "type": "nominal", "title": null,
                     "scale": {"domain": ["Berneau", "Dalhem", "Aubin", "Val-Dieu", "Comblain"], "paddingInner": 0.25, "paddingOuter": 0.225},
                     "axis": {"labelAngle": -27, "labelAlign": "center", "labelBaseline": "middle", "labelOffset": -10, "labelPadding": 16, "labelFont": "Lato", "labelFontWeight": "bold", "labelFontSize": 18, "labelColor": "#111111", "labelOverlap": false, "labelBound": false, "grid": true, "gridWidth": 1.3, "tickSize": 4}},
                   "y": {"field": "lo", "type": "quantitative", "scale": {"domain": [6.12, 12.73], "nice": false, "zero": false},
                     "axis": {"title": "Longueur totale (cm)", "titleFont": "Liberation Sans", "titleFontSize": 18, "titleFontWeight": "normal", "titleColor": "#1a1a1a", "titlePadding": 5,
                       "labelFont": "Liberation Sans", "labelFontSize": 20, "labelColor": "#4d4d4d", "labelPadding": 2, "tickSize": 4,
                       "values": [7, 8, 9, 10, 11, 12], "format": ".0f", "labelExpr": "datum.value % 2 === 0 ? datum.label : ''",
                       "grid": true, "gridWidth": {"condition": {"test": "datum.value % 2 === 0", "value": 1.4}, "value": 0.7},
                       "tickOpacity": {"condition": {"test": "datum.value % 2 === 0", "value": 1}, "value": 0}}},
                   "y2": {"field": "hi"}}},
                {"data": {"name": "lenBox"}, "mark": {"type": "bar", "stroke": "#595959", "strokeWidth": 1.2},
                 "encoding": {
                   "x": {"field": "site", "type": "nominal", "title": null},
                   "y": {"field": "q1", "type": "quantitative"}, "y2": {"field": "q3"},
                   "color": {"field": "river", "type": "nominal", "scale": {"domain": ["Berwinne", "Ourthe"], "range": ["#458B00", "#7A7A7A"]},
                     "legend": {"orient": "none", "legendX": 27, "legendY": -45, "direction": "horizontal", "title": null,
                       "symbolType": "M-0.88,-0.52H0.88V0.52H-0.88Z M0,-1V-0.52 M0,0.52V1 M-0.88,0H0.88",
                       "encode": {"symbols": {"update": {"stroke": {"value": "#555555"}, "strokeWidth": {"value": 1.4}, "opacity": {"value": 1}}}}}}}},
                {"data": {"name": "lenBox"}, "mark": {"type": "bar", "stroke": "#595959", "strokeWidth": 2},
                 "encoding": {"x": {"field": "site", "type": "nominal", "title": null}, "y": {"field": "med", "type": "quantitative"}, "y2": {"field": "med"}}},
                {"data": {"name": "lenOut"}, "mark": {"type": "circle", "color": "#707070", "size": 20, "opacity": 1},
                 "encoding": {"x": {"field": "site", "type": "nominal", "title": null}, "y": {"field": "v", "type": "quantitative"}}},
                {"data": {"name": "lenSig"}, "mark": {"type": "rule", "color": "black", "strokeWidth": 2.8},
                 "encoding": {"x": {"field": "from", "type": "nominal", "title": null}, "x2": {"field": "to"}, "y": {"field": "y", "type": "quantitative"}}}
              ]
            },
            {
              "layer": [
                {"data": {"name": "lenPts"}, "mark": {"type": "circle", "color": "black", "size": 20, "opacity": 1},
                 "encoding": {"x": {"field": "site", "type": "nominal", "title": null}, "y": {"field": "v", "type": "quantitative"},
                   "xOffset": {"field": "j", "type": "quantitative", "scale": {"domain": [-0.375, 0.375]}}}},
                {"data": {"name": "lenTxt"}, "mark": {"type": "text", "font": "DejaVu Sans", "fontWeight": "bold", "fontSize": 18, "color": "#111111", "baseline": "alphabetic", "dy": 3},
                 "encoding": {"x": {"field": "site", "type": "nominal", "title": null}, "y": {"field": "y", "type": "quantitative"}, "text": {"field": "label"},
                   "xOffset": {"field": "shift", "type": "quantitative", "scale": {"domain": [-0.375, 0.375]}}}}
              ]
            },
            {"data": {"name": "lenBox"}, "mark": {"type": "point", "shape": "triangle-up", "filled": false, "color": "#333333", "size": 80, "strokeWidth": 1.2, "opacity": 1},
             "encoding": {"x": {"field": "site", "type": "nominal", "title": null}, "y": {"field": "mean", "type": "quantitative"}}}
          ],
          "resolve": {"scale": {"xOffset": "independent"}}
        },
        {
          "width": 330,
          "height": 291,
          "layer": [
            {
              "layer": [
                {"data": {"name": "wtBox"}, "mark": {"type": "rule", "color": "#6e6e6e", "strokeWidth": 1.2},
                 "encoding": {
                   "x": {"field": "site", "type": "nominal", "title": null,
                     "scale": {"domain": ["Berneau", "Dalhem", "Aubin", "Val-Dieu", "Comblain"], "paddingInner": 0.25, "paddingOuter": 0.225},
                     "axis": {"labelAngle": -27, "labelAlign": "center", "labelBaseline": "middle", "labelOffset": -10, "labelPadding": 16, "labelFont": "Lato", "labelFontWeight": "bold", "labelFontSize": 18, "labelColor": "#111111", "labelOverlap": false, "labelBound": false, "grid": true, "gridWidth": 1.3, "tickSize": 4}},
                   "y": {"field": "lo", "type": "quantitative", "scale": {"domain": [2.19, 20.36], "nice": false, "zero": false},
                     "axis": {"title": "Poids (g)", "titleFont": "Liberation Sans", "titleFontSize": 18, "titleFontWeight": "normal", "titleColor": "#1a1a1a", "titlePadding": 5,
                       "labelFont": "Liberation Sans", "labelFontSize": 20, "labelColor": "#4d4d4d", "labelPadding": 2, "tickSize": 4,
                       "values": [2.5, 5, 7.5, 10, 12.5, 15, 17.5, 20], "format": ".0f", "labelExpr": "datum.value % 5 === 0 ? datum.label : ''",
                       "grid": true, "gridWidth": {"condition": {"test": "datum.value % 5 === 0", "value": 1.4}, "value": 0.7},
                       "tickOpacity": {"condition": {"test": "datum.value % 5 === 0", "value": 1}, "value": 0}}},
                   "y2": {"field": "hi"}}},
                {"data": {"name": "wtBox"}, "mark": {"type": "bar", "stroke": "#595959", "strokeWidth": 1.2},
                 "encoding": {
                   "x": {"field": "site", "type": "nominal", "title": null},
                   "y": {"field": "q1", "type": "quantitative"}, "y2": {"field": "q3"},
                   "color": {"field": "river", "type": "nominal", "scale": {"domain": ["Berwinne", "Ourthe"], "range": ["#458B00", "#7A7A7A"]},
                     "legend": {"orient": "none", "legendX": 26, "legendY": -47, "direction": "horizontal", "title": null,
                       "symbolType": "M-0.88,-0.52H0.88V0.52H-0.88Z M0,-1V-0.52 M0,0.52V1 M-0.88,0H0.88",
                       "encode": {"symbols": {"update": {"stroke": {"value": "#555555"}, "strokeWidth": {"value": 1.4}, "opacity": {"value": 1}}}}}}}},
                {"data": {"name": "wtBox"}, "mark": {"type": "bar", "stroke": "#595959", "strokeWidth": 2},
                 "encoding": {"x": {"field": "site", "type": "nominal", "title": null}, "y": {"field": "med", "type": "quantitative"}, "y2": {"field": "med"}}},
                {"data": {"name": "wtOut"}, "mark": {"type": "circle", "color": "#707070", "size": 20, "opacity": 1},
                 "encoding": {"x": {"field": "site", "type": "nominal", "title": null}, "y": {"field": "v", "type": "quantitative"}}},
                {"data": {"name": "wtSig"}, "mark": {"type": "rule", "color": "black", "strokeWidth": 2.8},
                 "encoding": {"x": {"field": "from", "type": "nominal", "title": null}, "x2": {"field": "to"}, "y": {"field": "y", "type": "quantitative"}}}
              ]
            },
            {
              "layer": [
                {"data": {"name": "wtPts"}, "mark": {"type": "circle", "color": "black", "size": 20, "opacity": 1},
                 "encoding": {"x": {"field": "site", "type": "nominal", "title": null}, "y": {"field": "v", "type": "quantitative"},
                   "xOffset": {"field": "j", "type": "quantitative", "scale": {"domain": [-0.375, 0.375]}}}},
                {"data": {"name": "wtTxt"}, "mark": {"type": "text", "font": "DejaVu Sans", "fontWeight": "bold", "fontSize": 18, "color": "#111111", "baseline": "alphabetic", "dy": 3},
                 "encoding": {"x": {"field": "site", "type": "nominal", "title": null}, "y": {"field": "y", "type": "quantitative"}, "text": {"field": "label"},
                   "xOffset": {"field": "shift", "type": "quantitative", "scale": {"domain": [-0.375, 0.375]}}}}
              ]
            },
            {"data": {"name": "wtBox"}, "mark": {"type": "point", "shape": "triangle-up", "filled": false, "color": "#333333", "size": 80, "strokeWidth": 1.2, "opacity": 1},
             "encoding": {"x": {"field": "site", "type": "nominal", "title": null}, "y": {"field": "mean", "type": "quantitative"}}}
          ],
          "resolve": {"scale": {"xOffset": "independent"}}
        }
      ],
      "spacing": 22,
      "resolve": {"scale": {"color": "independent", "xOffset": "independent"}, "legend": {"color": "independent"}}
    },
    {
      "width": 323,
      "height": 290,
      "layer": [
        {
          "layer": [
            {"data": {"name": "kBox"}, "mark": {"type": "rule", "color": "#6e6e6e", "strokeWidth": 1.2},
             "encoding": {
               "x": {"field": "site", "type": "nominal", "title": null,
                 "scale": {"domain": ["Berneau", "Dalhem", "Aubin", "Val-Dieu", "Comblain"], "paddingInner": 0.25, "paddingOuter": 0.225},
                 "axis": {"labelAngle": -27, "labelAlign": "center", "labelBaseline": "middle", "labelOffset": -10, "labelPadding": 16, "labelFont": "Lato", "labelFontWeight": "bold", "labelFontSize": 18, "labelColor": "#111111", "labelOverlap": false, "labelBound": false, "grid": true, "gridWidth": 1.3, "tickSize": 4}},
               "y": {"field": "lo", "type": "quantitative", "scale": {"domain": [0.573, 1.643], "nice": false, "zero": false},
                 "axis": {"title": "Indice de Fulton K", "titleFont": "Liberation Sans", "titleFontSize": 18, "titleFontWeight": "normal", "titleColor": "#1a1a1a", "titlePadding": 5,
                   "labelFont": "Liberation Sans", "labelFontSize": 20, "labelColor": "#4d4d4d", "labelPadding": 2, "tickSize": 4,
                   "values": [0.6, 0.7, 0.8, 0.9, 1.0, 1.1, 1.2, 1.3, 1.4, 1.5, 1.6], "format": ".1f", "labelExpr": "round(datum.value * 10) % 2 === 0 ? datum.label : ''",
                   "grid": true, "gridWidth": {"condition": {"test": "round(datum.value * 10) % 2 === 0", "value": 1.4}, "value": 0.7},
                   "tickOpacity": {"condition": {"test": "round(datum.value * 10) % 2 === 0", "value": 1}, "value": 0}}},
               "y2": {"field": "hi"}}},
            {"data": {"name": "kBox"}, "mark": {"type": "bar", "stroke": "#595959", "strokeWidth": 1.2},
             "encoding": {
               "x": {"field": "site", "type": "nominal", "title": null},
               "y": {"field": "q1", "type": "quantitative"}, "y2": {"field": "q3"},
               "color": {"field": "river", "type": "nominal", "scale": {"domain": ["Berwinne", "Ourthe"], "range": ["#458B00", "#7A7A7A"]},
                 "legend": {"orient": "none", "legendX": 12, "legendY": -40, "direction": "horizontal", "title": null,
                   "symbolType": "M-0.88,-0.52H0.88V0.52H-0.88Z M0,-1V-0.52 M0,0.52V1 M-0.88,0H0.88",
                   "encode": {"symbols": {"update": {"stroke": {"value": "#555555"}, "strokeWidth": {"value": 1.4}, "opacity": {"value": 1}}}}}}}},
            {"data": {"name": "kBox"}, "mark": {"type": "bar", "stroke": "#595959", "strokeWidth": 2},
             "encoding": {"x": {"field": "site", "type": "nominal", "title": null}, "y": {"field": "med", "type": "quantitative"}, "y2": {"field": "med"}}},
            {"data": {"name": "kOut"}, "mark": {"type": "circle", "color": "#707070", "size": 20, "opacity": 1},
             "encoding": {"x": {"field": "site", "type": "nominal", "title": null}, "y": {"field": "v", "type": "quantitative"}}},
            {"data": {"name": "kSig"}, "mark": {"type": "rule", "color": "black", "strokeWidth": 2.8},
             "encoding": {"x": {"field": "from", "type": "nominal", "title": null}, "x2": {"field": "to"}, "y": {"field": "y", "type": "quantitative"}}},
            {"data": {"name": "kSigShort"}, "mark": {"type": "rule", "color": "black", "strokeWidth": 2.8, "xOffset": -8, "x2Offset": -16},
             "encoding": {"x": {"field": "from", "type": "nominal", "title": null}, "x2": {"field": "to"}, "y": {"field": "y", "type": "quantitative"}}}
          ]
        },
        {
          "layer": [
            {"data": {"name": "kPts"}, "mark": {"type": "circle", "color": "black", "size": 20, "opacity": 1},
             "encoding": {"x": {"field": "site", "type": "nominal", "title": null}, "y": {"field": "v", "type": "quantitative"},
               "xOffset": {"field": "j", "type": "quantitative", "scale": {"domain": [-0.375, 0.375]}}}},
            {"data": {"name": "kTxt"}, "mark": {"type": "text", "font": "DejaVu Sans", "fontWeight": "bold", "fontSize": 18, "color": "#111111", "baseline": "alphabetic", "dy": 1},
             "encoding": {"x": {"field": "site", "type": "nominal", "title": null}, "y": {"field": "y", "type": "quantitative"}, "text": {"field": "label"},
               "xOffset": {"field": "shift", "type": "quantitative", "scale": {"domain": [-0.375, 0.375]}}}}
          ]
        },
        {"data": {"name": "kBox"}, "mark": {"type": "point", "shape": "triangle-up", "filled": false, "color": "#333333", "size": 80, "strokeWidth": 1.2, "opacity": 1},
         "encoding": {"x": {"field": "site", "type": "nominal", "title": null}, "y": {"field": "mean", "type": "quantitative"}}}
      ],
      "resolve": {"scale": {"xOffset": "independent"}}
    }
  ],
  "spacing": 0,
  "resolve": {"scale": {"color": "independent", "xOffset": "independent"}, "legend": {"color": "independent"}},
  "config": {
    "view": {"fill": "#EBEBEB", "stroke": null},
    "axis": {"domain": false, "gridColor": "#FFFFFF", "tickColor": "#333333", "tickWidth": 1.1},
    "legend": {
      "symbolSize": 1089,
      "symbolStrokeWidth": 1.4,
      "symbolStrokeColor": "#555555",
      "labelFont": "Lato",
      "labelFontWeight": "bold",
      "labelFontSize": 16,
      "labelColor": "#111111",
      "labelOffset": 17,
      "columnPadding": 50,
      "padding": 0
    }
  }
}
